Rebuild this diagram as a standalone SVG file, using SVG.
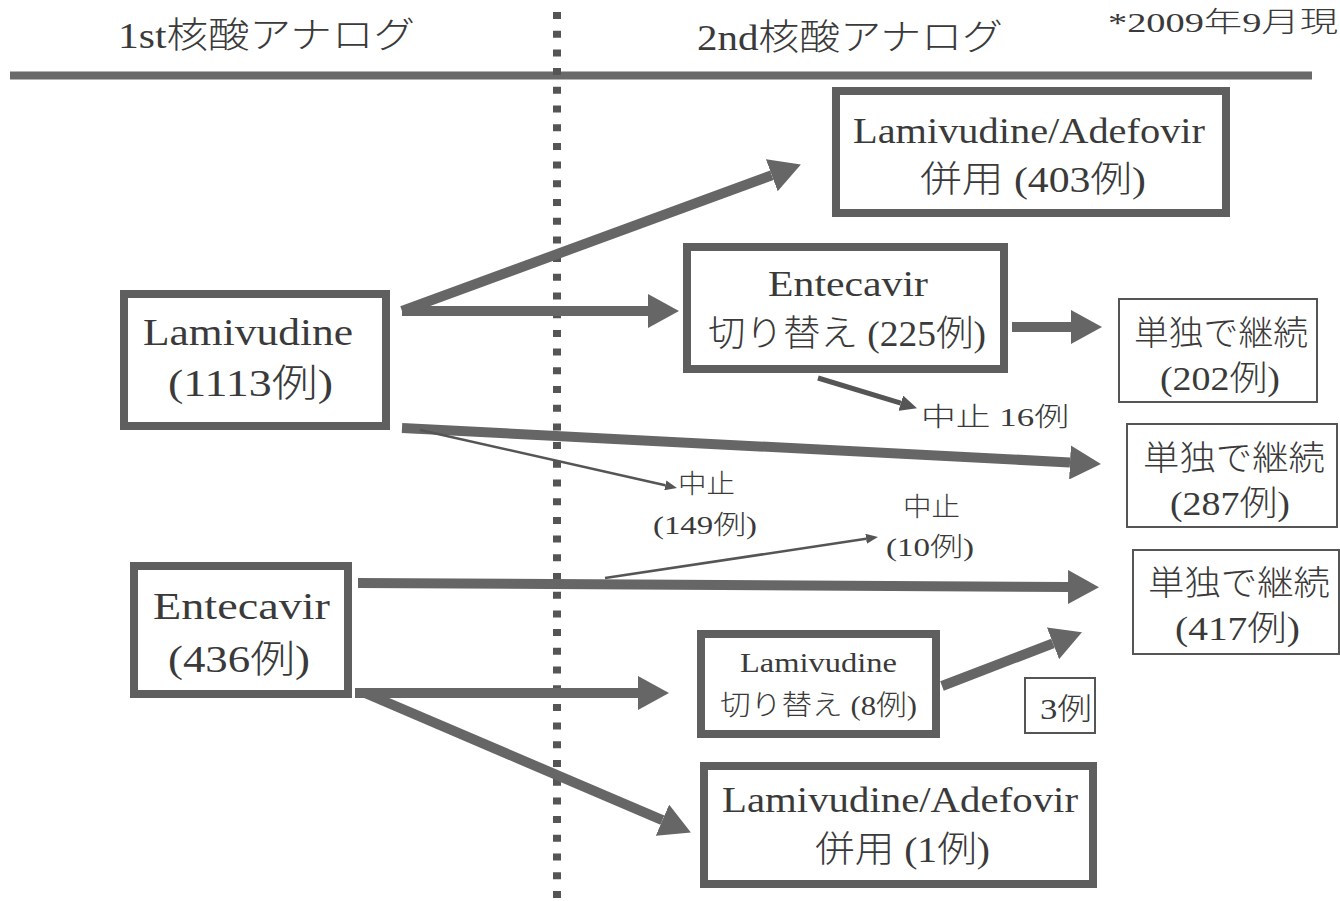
<svg xmlns="http://www.w3.org/2000/svg" width="1340" height="901" viewBox="0 0 1340 901">
<defs>
<style>
.t{font-family:'Liberation Serif','Noto Sans CJK JP',serif;fill:#3a3a3a;font-weight:300;}
.thick{fill:#fff;stroke:#5f5f5f;stroke-width:8;}
.thin{fill:#fff;stroke:#555;stroke-width:2;}
.a{stroke:#666;stroke-width:10;fill:none;}
.am{stroke:#555;stroke-width:5;fill:none;}
.as{stroke:#555;stroke-width:2.5;fill:none;}
</style>
<marker id="big" markerUnits="userSpaceOnUse" viewBox="0 0 31 34" refX="0" refY="17" markerWidth="31" markerHeight="34" orient="auto"><path d="M0,0 L31,17 L0,34 z" fill="#666"/></marker>
<marker id="mid" markerUnits="userSpaceOnUse" viewBox="0 0 17 16" refX="0" refY="8" markerWidth="17" markerHeight="16" orient="auto"><path d="M0,0 L17,8 L0,16 z" fill="#555"/></marker>
<marker id="sml" markerUnits="userSpaceOnUse" viewBox="0 0 12 10" refX="0" refY="5" markerWidth="12" markerHeight="10" orient="auto"><path d="M0,0 L12,5 L0,10 z" fill="#555"/></marker>
</defs>
<rect width="1340" height="901" fill="#fff"/>
<g id="frame">
<line x1="10" y1="75.5" x2="1312" y2="75.5" stroke="#6a6a6a" stroke-width="8"/>
<line x1="557" y1="12" x2="557" y2="901" stroke="#555" stroke-width="8" stroke-dasharray="7 11.7"/>
<text class="t" x="118" y="48" font-size="36" textLength="297" lengthAdjust="spacingAndGlyphs">1st核酸アナログ</text>
<text class="t" x="697" y="50" font-size="36" textLength="306" lengthAdjust="spacingAndGlyphs">2nd核酸アナログ</text>
<text class="t" x="1108" y="32" font-size="28" textLength="230" lengthAdjust="spacingAndGlyphs">*2009年9月現</text>
</g>
<g id="connectors">
<line class="a" x1="402" y1="311" x2="771.8" y2="175.3" marker-end="url(#big)"/>
<line class="a" x1="402" y1="311" x2="648" y2="311" marker-end="url(#big)"/>
<line class="a" x1="402" y1="428" x2="1070" y2="462.4" marker-end="url(#big)"/>
<line class="as" x1="420" y1="430" x2="665.3" y2="485.3" marker-end="url(#sml)"/>
<line class="a" x1="1012" y1="327" x2="1071" y2="327" marker-end="url(#big)"/>
<line class="am" x1="818" y1="378" x2="900.8" y2="403.2" marker-end="url(#mid)"/>
<line class="a" x1="358" y1="583" x2="1068" y2="587" marker-end="url(#big)"/>
<line class="as" x1="605" y1="578" x2="866.1" y2="538.8" marker-end="url(#sml)"/>
<line class="a" x1="355" y1="693" x2="638" y2="693" marker-end="url(#big)"/>
<line class="a" x1="365" y1="693" x2="662.4" y2="820.2" marker-end="url(#big)"/>
<line class="a" x1="942" y1="686" x2="1053" y2="643.3" marker-end="url(#big)"/>
</g>
<g id="n-lam">
<rect class="thick" x="124" y="294" width="262" height="132"/>
<text class="t" x="143" y="345" font-size="38" textLength="210" lengthAdjust="spacingAndGlyphs">Lamivudine</text>
<text class="t" x="168" y="396" font-size="38" textLength="165" lengthAdjust="spacingAndGlyphs">(1113例)</text>
</g>
<g id="n-ent">
<rect class="thick" x="134" y="566" width="214" height="128"/>
<text class="t" x="153" y="619" font-size="38" textLength="177" lengthAdjust="spacingAndGlyphs">Entecavir</text>
<text class="t" x="168" y="672" font-size="38" textLength="142" lengthAdjust="spacingAndGlyphs">(436例)</text>
</g>
<g id="n-la403">
<rect class="thick" x="836" y="91" width="390" height="122"/>
<text class="t" x="853" y="143" font-size="36" textLength="352" lengthAdjust="spacingAndGlyphs">Lamivudine/Adefovir</text>
<text class="t" x="920" y="192" font-size="36" textLength="226" lengthAdjust="spacingAndGlyphs">併用 (403例)</text>
</g>
<g id="n-ent225">
<rect class="thick" x="687" y="247" width="317" height="122"/>
<text class="t" x="768" y="296" font-size="36" textLength="160" lengthAdjust="spacingAndGlyphs">Entecavir</text>
<text class="t" x="708" y="346" font-size="36" textLength="278" lengthAdjust="spacingAndGlyphs">切り替え (225例)</text>
</g>
<g id="n-c202">
<rect class="thin" x="1119" y="299" width="198" height="103"/>
<text class="t" x="1134" y="345" font-size="34" textLength="174" lengthAdjust="spacingAndGlyphs">単独で継続</text>
<text class="t" x="1160" y="390" font-size="34" textLength="120" lengthAdjust="spacingAndGlyphs">(202例)</text>
</g>
<g id="n-c287">
<rect class="thin" x="1127" y="424" width="210" height="103"/>
<text class="t" x="1143" y="470" font-size="34" textLength="182" lengthAdjust="spacingAndGlyphs">単独で継続</text>
<text class="t" x="1170" y="515" font-size="34" textLength="120" lengthAdjust="spacingAndGlyphs">(287例)</text>
</g>
<g id="n-c417">
<rect class="thin" x="1133" y="550" width="206" height="104"/>
<text class="t" x="1148" y="595" font-size="34" textLength="182" lengthAdjust="spacingAndGlyphs">単独で継続</text>
<text class="t" x="1175" y="640" font-size="34" textLength="125" lengthAdjust="spacingAndGlyphs">(417例)</text>
</g>
<g id="n-lam8">
<rect class="thick" x="701" y="634" width="235" height="100" stroke-width="7"/>
<text class="t" x="740" y="672" font-size="28" textLength="157" lengthAdjust="spacingAndGlyphs">Lamivudine</text>
<text class="t" x="720" y="715" font-size="28" textLength="197" lengthAdjust="spacingAndGlyphs">切り替え (8例)</text>
</g>
<g id="n-3">
<rect class="thin" x="1025" y="678" width="70" height="55"/>
<text class="t" x="1040" y="719" font-size="30" textLength="52" lengthAdjust="spacingAndGlyphs">3例</text>
</g>
<g id="n-la1">
<rect class="thick" x="704" y="766" width="389" height="118"/>
<text class="t" x="722" y="812" font-size="36" textLength="356" lengthAdjust="spacingAndGlyphs">Lamivudine/Adefovir</text>
<text class="t" x="815" y="862" font-size="36" textLength="175" lengthAdjust="spacingAndGlyphs">併用 (1例)</text>
</g>
<g id="labels">
<text class="t" x="921" y="426" font-size="26" textLength="148" lengthAdjust="spacingAndGlyphs">中止  16例</text>
<text class="t" x="678" y="493" font-size="26" textLength="57" lengthAdjust="spacingAndGlyphs">中止</text>
<text class="t" x="653" y="534" font-size="26" textLength="104" lengthAdjust="spacingAndGlyphs">(149例)</text>
<text class="t" x="903" y="516" font-size="26" textLength="57" lengthAdjust="spacingAndGlyphs">中止</text>
<text class="t" x="886" y="556" font-size="26" textLength="88" lengthAdjust="spacingAndGlyphs">(10例)</text>
</g>
</svg>
